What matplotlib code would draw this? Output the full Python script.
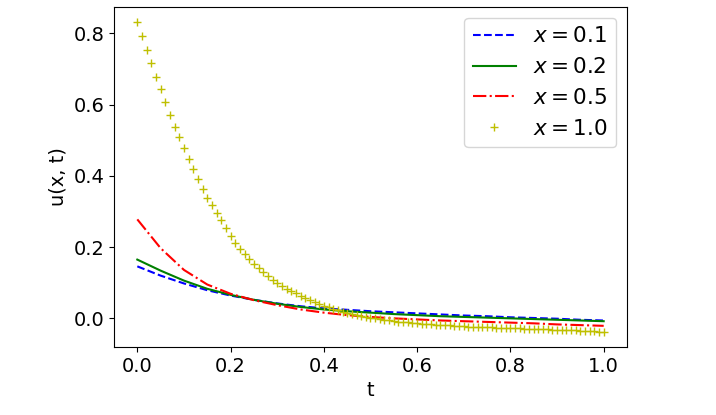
import numpy as np
import matplotlib
matplotlib.use('Agg')
import matplotlib.pyplot as plt

# time grid for the smooth curves and for the marker series
t_line = np.linspace(0.0, 1.0, 21)
t_mark = np.linspace(0.0, 1.0, 101)

u_x01 = [0.146, 0.120, 0.098, 0.079, 0.064, 0.052, 0.042, 0.034, 0.028, 0.024,
         0.020, 0.017, 0.014, 0.011, 0.008, 0.006, 0.003, 0.001, -0.001, -0.004,
         -0.006]
u_x02 = [0.165, 0.134, 0.106, 0.083, 0.066, 0.052, 0.041, 0.032, 0.025, 0.020,
         0.016, 0.012, 0.009, 0.006, 0.004, 0.002, 0.000, -0.002, -0.004, -0.006,
         -0.008]
u_x05 = [0.278, 0.197, 0.136, 0.095, 0.069, 0.051, 0.037, 0.025, 0.016, 0.009,
         0.004, 0.000, -0.003, -0.006, -0.008, -0.010, -0.012, -0.014, -0.017,
         -0.019, -0.021]
u_x10 = [0.831, 0.793, 0.754, 0.716, 0.679, 0.643, 0.607, 0.571, 0.538, 0.508,
         0.477, 0.447, 0.418, 0.390, 0.363, 0.339, 0.318, 0.297, 0.275, 0.253,
         0.232, 0.213, 0.196, 0.181, 0.166, 0.154, 0.142, 0.130, 0.119, 0.109,
         0.099, 0.091, 0.083, 0.076, 0.070, 0.063, 0.057, 0.051, 0.046, 0.041,
         0.036, 0.031, 0.027, 0.023, 0.019, 0.016, 0.013, 0.010, 0.007, 0.004,
         0.002, 0.000, -0.002, -0.004, -0.006, -0.007, -0.009, -0.010, -0.011, -0.013,
         -0.014, -0.015, -0.016, -0.017, -0.018, -0.018, -0.019, -0.020, -0.021, -0.021,
         -0.022, -0.023, -0.023, -0.024, -0.024, -0.025, -0.025, -0.026, -0.026, -0.027,
         -0.027, -0.028, -0.028, -0.029, -0.029, -0.030, -0.030, -0.031, -0.031, -0.032,
         -0.032, -0.033, -0.033, -0.034, -0.034, -0.035, -0.035, -0.036, -0.036, -0.037,
         -0.037]

fig = plt.figure(figsize=(7.16, 4.15), dpi=100)
ax = fig.add_axes([0.1592, 0.1639, 0.7165, 0.8193])

ax.plot(t_line, u_x01, 'b--', label='$x = 0.1$')
ax.plot(t_line, u_x02, 'g-', label='$x = 0.2$')
ax.plot(t_line, u_x05, 'r-.', label='$x = 0.5$')
ax.plot(t_mark, u_x10, 'y+', label='$x = 1.0$')

ax.set_xlabel('t', fontsize=14)
ax.set_ylabel('u(x, t)', fontsize=14)
ax.tick_params(labelsize=14)
ax.legend(loc='upper right', fontsize=15.5)

fig.savefig('out.png', dpi=100)
